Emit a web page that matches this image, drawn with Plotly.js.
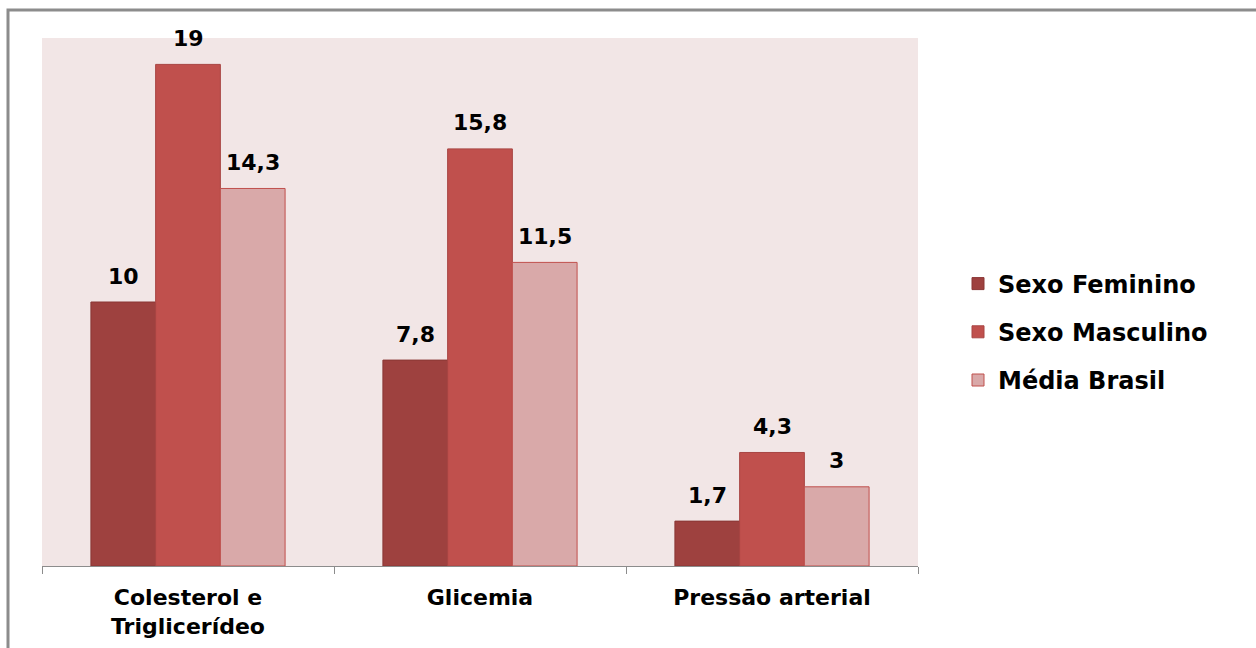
<!DOCTYPE html>
<html>
<head>
<meta charset="utf-8">
<script src="https://cdn.plot.ly/plotly-3.0.1.min.js"></script>
<style>
html,body{margin:0;padding:0;background:#fff;}
#chart{width:1256px;height:648px;}
</style>
</head>
<body>
<div id="chart"></div>
<script>
var categories = ["Colesterol e<br>Triglicerídeo", "Glicemia", "Pressão arterial"];
var seriesNames = ["Sexo Feminino", "Sexo Masculino", "Média Brasil"];
var sexoFeminino = [10, 7.8, 1.7];
var sexoMasculino = [19, 15.8, 4.3];
var mediaBrasil = [14.3, 11.5, 3];
var labelsFeminino = ["10", "7,8", "1,7"];
var labelsMasculino = ["19", "15,8", "4,3"];
var labelsMedia = ["14,3", "11,5", "3"];

var colors = ["#9E413F", "#C0504D", "#D9A9A9"];
var lineColors = ["#8A3735", "#A84543", "#C0504D"];
var series = [sexoFeminino, sexoMasculino, mediaBrasil];
var labels = [labelsFeminino, labelsMasculino, labelsMedia];

var W = 1256, H = 648;
var margin = {l: 42, r: 338, t: 38, b: 82};
var bargap = 0.335;
var plotW = W - margin.l - margin.r;
var plotH = H - margin.t - margin.b;
var barPx = plotW / categories.length * (1 - bargap) / series.length;

var traces = series.map(function (vals, i) {
  return {
    type: "bar",
    name: seriesNames[i],
    x: categories,
    y: vals,
    legendgroup: "g" + i,
    marker: {color: colors[i], line: {color: lineColors[i], width: 1}},
    hoverinfo: "skip"
  };
});

var annotations = [];
series.forEach(function (vals, i) {
  vals.forEach(function (v, j) {
    annotations.push({
      x: categories[j], y: v, xref: "x", yref: "y",
      text: labels[i][j], showarrow: false,
      xshift: (i - 1) * barPx, yshift: 26, yanchor: "middle",
      font: {family: "DejaVu Sans", size: 22, color: "#000", weight: "bold"}
    });
  });
});

var layout = {
  width: W, height: H,
  margin: margin,
  paper_bgcolor: "#ffffff",
  plot_bgcolor: "#F2E6E6",
  barmode: "group",
  bargap: bargap,
  bargroupgap: 0,
  showlegend: true,
  legend: {
    x: 1 + 40 / plotW, xanchor: "left", xref: "paper",
    y: (566 - 332) / plotH, yanchor: "middle",
    traceorder: "grouped",
    tracegroupgap: 14,
    font: {family: "DejaVu Sans", size: 24, color: "#000", weight: "bold"},
    bgcolor: "rgba(0,0,0,0)",
    itemclick: false
  },
  xaxis: {
    type: "category",
    showgrid: false,
    showline: true, linecolor: "#8c8c8c", linewidth: 1,
    ticks: "outside", tickson: "boundaries", ticklen: 7, tickcolor: "#8c8c8c",
    tickfont: {family: "DejaVu Sans", size: 22, color: "#000", weight: "bold"},
    ticklabelstandoff: 12,
    zeroline: false, fixedrange: true
  },
  yaxis: {
    range: [0, 20],
    showgrid: false, showline: false, showticklabels: false,
    ticks: "", zeroline: false, fixedrange: true
  },
  annotations: annotations,
  shapes: [{
    type: "rect", xref: "paper", yref: "paper",
    x0: (8 - margin.l) / plotW,
    x1: (W + 20 - margin.l) / plotW,
    y0: -(margin.b + 20) / plotH,
    y1: (H - margin.b - 10) / plotH,
    line: {color: "#8c8c8c", width: 3},
    fillcolor: "rgba(0,0,0,0)", layer: "above"
  }]
};

Plotly.newPlot("chart", traces, layout, {displayModeBar: false, staticPlot: true});
</script>
</body>
</html>
